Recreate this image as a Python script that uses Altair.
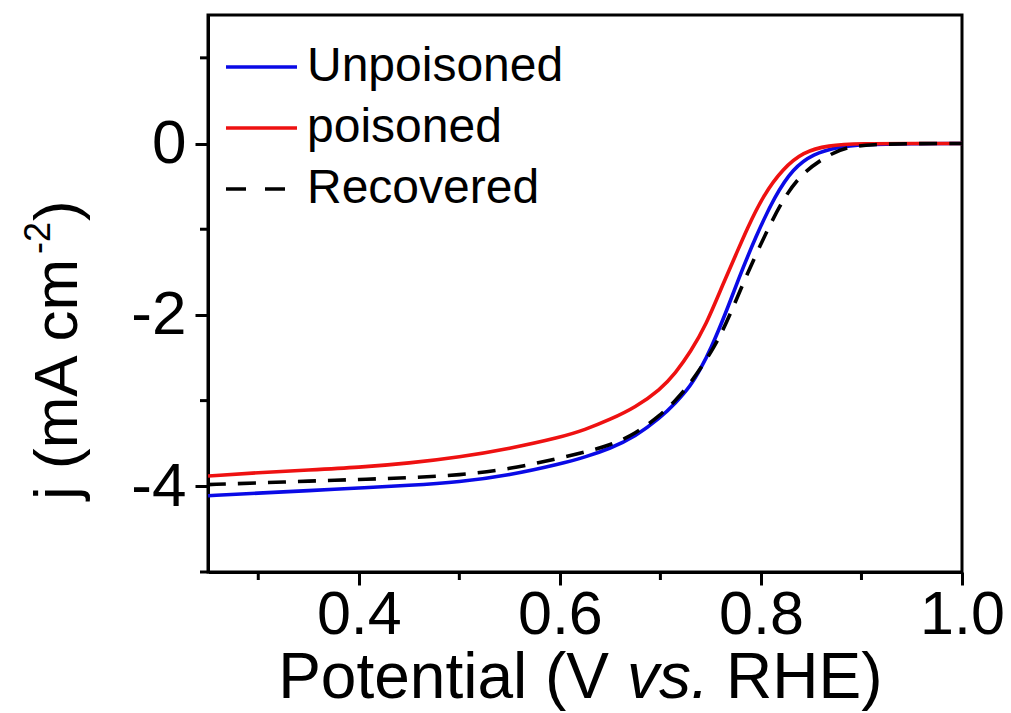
import altair as alt
import pandas as pd

# ---- data ----
v_unpoisoned = [0.25, 0.30, 0.35, 0.40, 0.45, 0.50, 0.55, 0.60, 0.625, 0.65, 0.675, 0.70, 0.715, 0.73,
                0.74, 0.75, 0.765, 0.777, 0.795, 0.814, 0.832, 0.852, 0.876, 0.90, 0.95, 1.00]
j_unpoisoned = [-4.11, -4.08, -4.05, -4.02, -3.99, -3.95, -3.87, -3.74, -3.66, -3.56, -3.42, -3.20, -3.03, -2.83,
                -2.63, -2.40, -1.98, -1.60, -1.08, -0.61, -0.29, -0.12, -0.04, -0.01, 0.0, 0.0]

v_poisoned = [0.25, 0.30, 0.35, 0.40, 0.45, 0.50, 0.55, 0.60, 0.625, 0.65, 0.675, 0.70, 0.715, 0.73,
              0.745, 0.763, 0.775, 0.786, 0.802, 0.822, 0.842, 0.866, 0.90, 0.95, 1.00]
j_poisoned = [-3.88, -3.84, -3.81, -3.78, -3.73, -3.66, -3.56, -3.43, -3.34, -3.22, -3.08, -2.87, -2.68, -2.43,
              -2.13, -1.62, -1.30, -1.00, -0.61, -0.29, -0.10, -0.02, 0.0, 0.0, 0.0]

v_recovered = [0.25, 0.30, 0.35, 0.40, 0.45, 0.50, 0.55, 0.60, 0.625, 0.65, 0.675, 0.70, 0.715, 0.73,
               0.755, 0.77, 0.784, 0.807, 0.824, 0.842, 0.869, 0.886, 0.91, 0.95, 1.00]
j_recovered = [-3.98, -3.96, -3.94, -3.92, -3.90, -3.87, -3.80, -3.67, -3.60, -3.52, -3.39, -3.17, -3.00, -2.80,
               -2.36, -1.98, -1.58, -0.99, -0.61, -0.33, -0.12, -0.04, -0.01, 0.0, 0.0]

series_names = ["Unpoisoned", "poisoned", "Recovered"]
series_colors = ["#0a0ae6", "#ee1111", "#000000"]

x_major = [0.4, 0.6, 0.8, 1.0]
x_minor = [0.3, 0.5, 0.7, 0.9]
y_major = [0, -2, -4]
y_minor = [1, -1, -3, -5]

FONT = "Liberation Sans"
W, H = 754, 557

xscale = alt.Scale(domain=[0.25, 1.0], nice=False, zero=False)
yscale = alt.Scale(domain=[-5, 1.5], nice=False, zero=False)

xaxis = alt.Axis(values=x_major, format=".1f", title=None, grid=False,
                 tickSize=13, tickWidth=3, tickColor="black",
                 domainColor="black", domainWidth=3,
                 labelFontSize=61, labelFont=FONT, labelColor="black",
                 labelPadding=0, labelFlush=False, labelOverlap=False)
yaxis = alt.Axis(values=y_major, title=None, grid=False,
                 labelExpr="datum.value == 0 ? '0' : '-' + abs(datum.value)",
                 tickSize=13, tickWidth=3, tickColor="black",
                 domainColor="black", domainWidth=3,
                 labelFontSize=62, labelFont=FONT, labelColor="black",
                 labelPadding=9, labelFlush=False, labelOverlap=False)


def curve(vs, js, color, dash=None):
    df = pd.DataFrame({"V": vs, "j": js})
    kw = dict(color=color, strokeWidth=3.6, interpolate="basis", clip=True)
    if dash:
        kw["strokeDash"] = dash
    return alt.Chart(df).mark_line(**kw).encode(
        x=alt.X("V:Q", scale=xscale, axis=xaxis),
        y=alt.Y("j:Q", scale=yscale, axis=yaxis),
    )


blue = curve(v_unpoisoned, j_unpoisoned, series_colors[0])
red = curve(v_poisoned, j_poisoned, series_colors[1])
black = curve(v_recovered, j_recovered, series_colors[2], dash=[18, 12])

# minor ticks
xminor = alt.Chart(pd.DataFrame({"V": x_minor})).mark_rule(color="black", strokeWidth=3).encode(
    x=alt.X("V:Q", scale=xscale, axis=xaxis),
    y=alt.value(H), y2=alt.value(H + 8))
yminor = alt.Chart(pd.DataFrame({"j": y_minor})).mark_rule(color="black", strokeWidth=3).encode(
    y=alt.Y("j:Q", scale=yscale, axis=yaxis),
    x=alt.value(0), x2=alt.value(-8))

# legend (inside top-left)
legend_layers = []
for i, (name, col) in enumerate(zip(series_names, series_colors)):
    yy = 52 + 61 * i
    d = pd.DataFrame({"label": [name]})
    if name == "Recovered":
        r = alt.Chart(d).mark_rule(color=col, strokeWidth=3.6, strokeDash=[20, 19]).encode(
            x=alt.value(18), x2=alt.value(79), y=alt.value(yy))
    else:
        r = alt.Chart(d).mark_rule(color=col, strokeWidth=3.6).encode(
            x=alt.value(18), x2=alt.value(89), y=alt.value(yy))
    t = alt.Chart(d).mark_text(align="left", baseline="middle", fontSize=48, font=FONT,
                               color="black").encode(
        x=alt.value(99), y=alt.value(yy), text="label:N")
    legend_layers += [r, t]

# x-axis title with italic "vs."
tdf = pd.DataFrame({"a": ["Potential (V"], "b": ["vs."], "c": ["RHE)"]})
xt1 = alt.Chart(tdf).mark_text(align="right", baseline="alphabetic", fontSize=64, font=FONT,
                               color="black").encode(x=alt.value(401), y=alt.value(683), text="a:N")
xt2 = alt.Chart(tdf).mark_text(align="left", baseline="alphabetic", fontSize=64, font=FONT,
                               fontStyle="italic", color="black").encode(
    x=alt.value(419), y=alt.value(683), text="b:N")
xt3 = alt.Chart(tdf).mark_text(align="left", baseline="alphabetic", fontSize=64, font=FONT,
                               color="black").encode(x=alt.value(518), y=alt.value(683), text="c:N")

# y-axis title with superscript
ydf = pd.DataFrame({"a": ["j (mA cm"], "b": ["-2"], "c": [")"]})
yt1 = alt.Chart(ydf).mark_text(align="left", baseline="alphabetic", angle=270, fontSize=62, font=FONT,
                               color="black").encode(x=alt.value(-131), y=alt.value(485), text="a:N")
yt2 = alt.Chart(ydf).mark_text(align="left", baseline="alphabetic", angle=270, fontSize=36, font=FONT,
                               color="black").encode(x=alt.value(-158), y=alt.value(239), text="b:N")
yt3 = alt.Chart(ydf).mark_text(align="left", baseline="alphabetic", angle=270, fontSize=62, font=FONT,
                               color="black").encode(x=alt.value(-131), y=alt.value(206), text="c:N")

chart = alt.layer(
    blue, red, black, xminor, yminor, *legend_layers, xt1, xt2, xt3, yt1, yt2, yt3
).properties(
    width=W, height=H,
    autosize=alt.AutoSizeParams(type="none"),
    padding={"left": 208, "top": 15, "right": 49, "bottom": 141},
    background="white",
).configure_view(stroke="black", strokeWidth=3)

chart.save("out.html", embed_options={"renderer": "svg", "actions": False})
